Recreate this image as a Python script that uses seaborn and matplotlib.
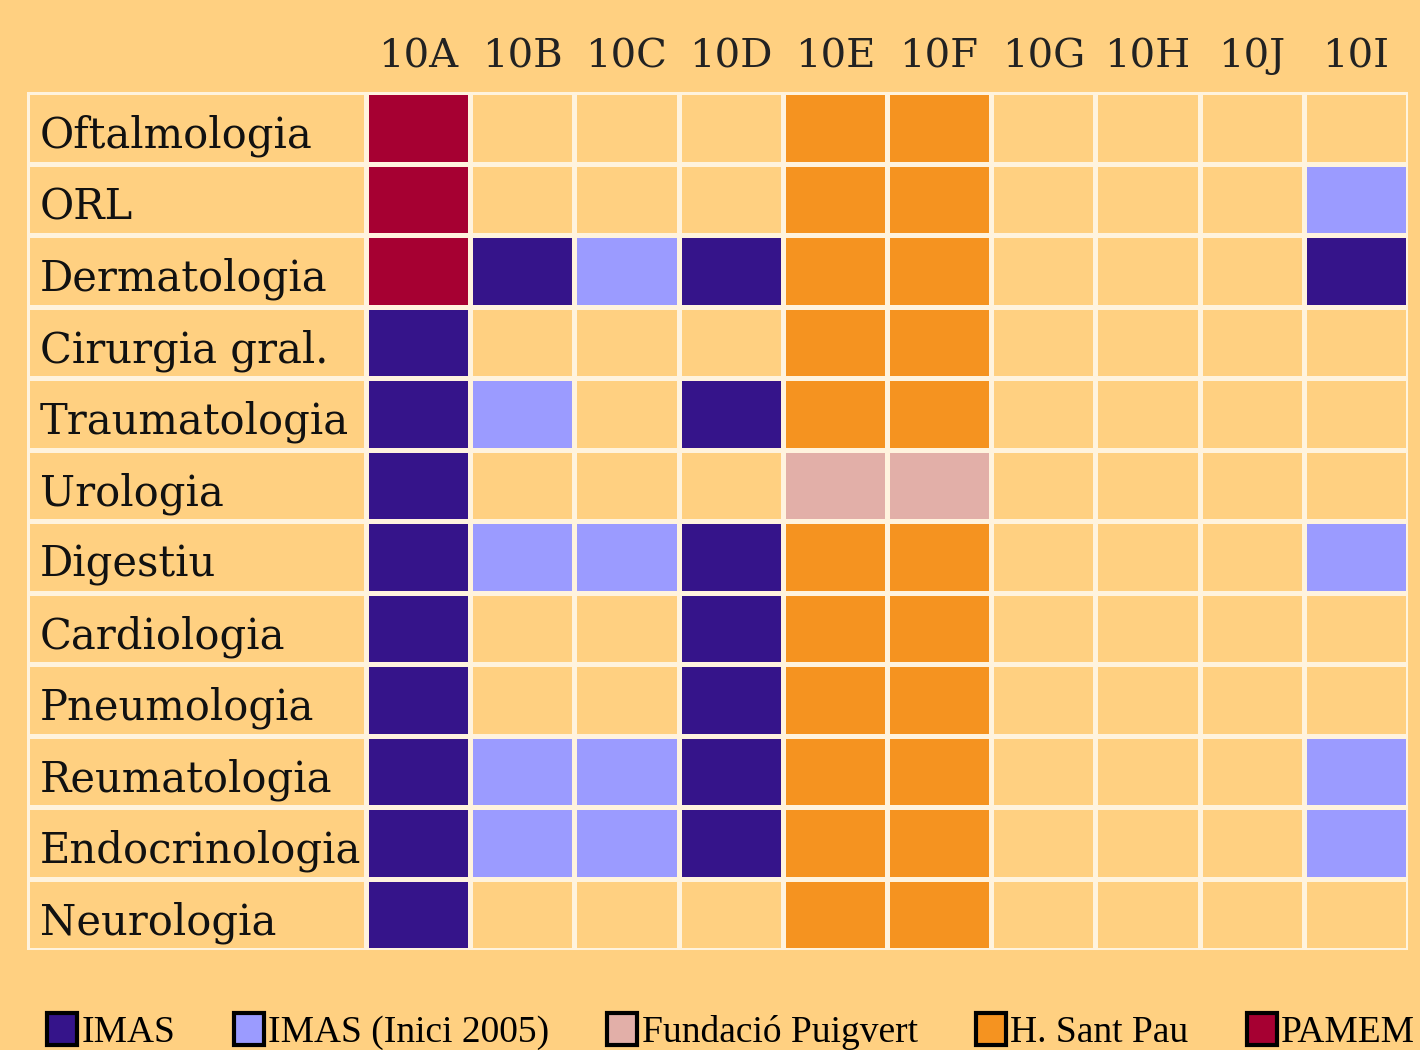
import matplotlib
matplotlib.use("Agg")
import matplotlib.pyplot as plt
from matplotlib.colors import ListedColormap
from matplotlib.patches import Patch
import seaborn as sns
import numpy as np

# ---------------------------------------------------------------------------- #
#                                     Data                                     #
# ---------------------------------------------------------------------------- #
specialties = [
    "Oftalmologia", "ORL", "Dermatologia", "Cirurgia gral.", "Traumatologia",
    "Urologia", "Digestiu", "Cardiologia", "Pneumologia", "Reumatologia",
    "Endocrinologia", "Neurologia",
]
centres = ["10A", "10B", "10C", "10D", "10E", "10F", "10G", "10H", "10J", "10I"]

providers = ["", "IMAS", "IMAS (Inici 2005)", "Fundació Puigvert", "H. Sant Pau", "PAMEM"]
provider_colors = ["#FFD081", "#35148A", "#9B9BFF", "#E2AFA8", "#F59320", "#A60032"]

# provider code per specialty (rows) and centre (columns)
# 0 none, 1 IMAS, 2 IMAS 2005, 3 Fundació Puigvert, 4 H. Sant Pau, 5 PAMEM
oftalmologia   = [5, 0, 0, 0, 4, 4, 0, 0, 0, 0]
orl            = [5, 0, 0, 0, 4, 4, 0, 0, 0, 2]
dermatologia   = [5, 1, 2, 1, 4, 4, 0, 0, 0, 1]
cirurgia       = [1, 0, 0, 0, 4, 4, 0, 0, 0, 0]
traumatologia  = [1, 2, 0, 1, 4, 4, 0, 0, 0, 0]
urologia       = [1, 0, 0, 0, 3, 3, 0, 0, 0, 0]
digestiu       = [1, 2, 2, 1, 4, 4, 0, 0, 0, 2]
cardiologia    = [1, 0, 0, 1, 4, 4, 0, 0, 0, 0]
pneumologia    = [1, 0, 0, 1, 4, 4, 0, 0, 0, 0]
reumatologia   = [1, 2, 2, 1, 4, 4, 0, 0, 0, 2]
endocrinologia = [1, 2, 2, 1, 4, 4, 0, 0, 0, 2]
neurologia     = [1, 0, 0, 0, 4, 4, 0, 0, 0, 0]

codes = np.array([
    oftalmologia, orl, dermatologia, cirurgia, traumatologia, urologia,
    digestiu, cardiologia, pneumologia, reumatologia, endocrinologia, neurologia,
])

# ---------------------------------------------------------------------------- #
#                                    Styling                                   #
# ---------------------------------------------------------------------------- #
bg = "#FFD081"
line_color = "#FFF3DE"
table_font = ["DejaVu Serif"]
legend_font = ["Liberation Serif"]

W, H = 1420, 1050
fig = plt.figure(figsize=(W / 100, H / 100), dpi=100, facecolor=bg)

top, bottom = 92, 950
label_left, data_left, data_right = 27, 366, 1408


def fig_rect(x0, x1):
    return [x0 / W, 1 - bottom / H, (x1 - x0) / W, (bottom - top) / H]


cmap = ListedColormap(provider_colors)

# Label column (one wide cell per row)
ax_lab = fig.add_axes(fig_rect(label_left, data_left))
sns.heatmap(
    np.zeros((len(specialties), 1)), ax=ax_lab, cmap=cmap, vmin=-0.5, vmax=5.5,
    cbar=False, linewidths=2.2, linecolor=line_color,
    xticklabels=False, yticklabels=False,
)
for i, name in enumerate(specialties):
    ax_lab.text(13 / (data_left - label_left), i + 0.78, name, ha="left",
                va="baseline", fontsize=30, family=table_font, color="#111111")

# Data grid
ax = fig.add_axes(fig_rect(data_left, data_right))
sns.heatmap(
    codes, ax=ax, cmap=cmap, vmin=-0.5, vmax=5.5, cbar=False,
    linewidths=2.2, linecolor=line_color,
    xticklabels=centres, yticklabels=False,
)
ax.xaxis.tick_top()
ax.tick_params(axis="x", length=0, pad=12)
for lbl in ax.get_xticklabels():
    lbl.set_fontsize(29)
    lbl.set_family(table_font)
    lbl.set_color("#222222")
    lbl.set_rotation(0)

# Legend
handles = [
    Patch(facecolor=c, edgecolor="black", linewidth=3, label=p)
    for p, c in zip(providers[1:], provider_colors[1:])
]
leg = fig.legend(
    handles=handles, loc="lower left", bbox_to_anchor=(47 / W, 0),
    ncol=5, frameon=False, handlelength=0.8, handleheight=0.9,
    handletextpad=0.12, columnspacing=1.55, borderaxespad=0, borderpad=0,
    prop={"family": legend_font, "size": 27},
)

fig.savefig("out.png", dpi=100, facecolor=bg)
